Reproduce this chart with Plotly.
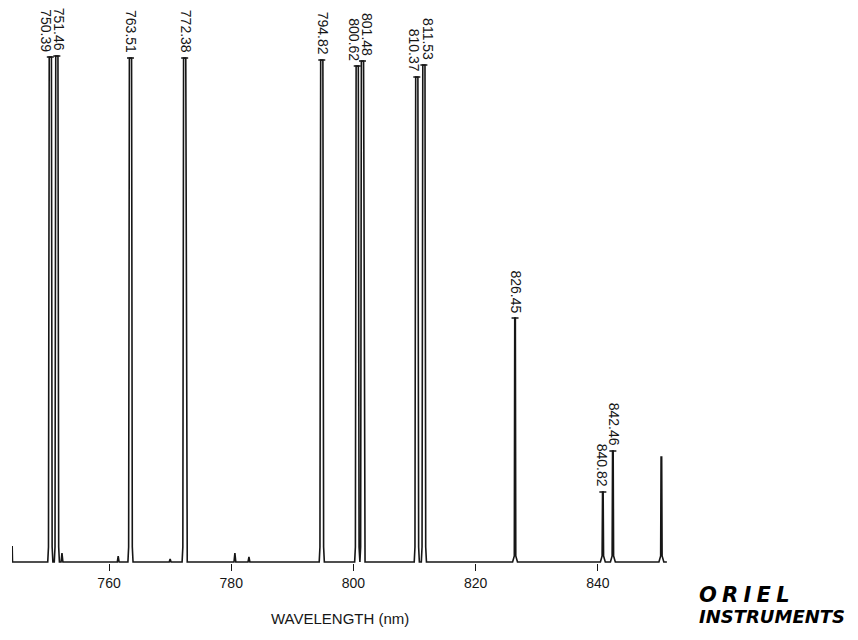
import plotly.graph_objects as go

# Argon emission lines: wavelength (nm) and recorded intensity (arb. units, baseline = 0)
LINE_WL = [750.39, 751.46, 763.51, 772.38, 794.82, 800.62, 801.48,
           810.37, 811.53, 826.45, 840.82, 842.46, 850.4]
LINE_INT = [101.0, 101.2, 100.8, 100.8, 100.4, 99.2, 100.2,
            97.0, 99.4, 48.8, 14.0, 22.2, 21.0]
LINE_LABEL = ["750.39", "751.46", "763.51", "772.38", "794.82", "800.62", "801.48",
              "810.37", "811.53", "826.45", "840.82", "842.46", None]

# small bumps on the baseline
BUMP_WL = [752.3, 761.5, 770.0, 780.6, 782.9]
BUMP_INT = [1.8, 1.2, 0.6, 1.8, 1.0]

# pen start level and scan limits
SCAN_START, SCAN_END = 744.15, 851.3
START_LEVEL = 3.2

TICKS = [760, 780, 800, 820, 840]

# label nudges (px) so neighbouring labels do not collide
LABEL_XSHIFT = [-4, 3, 1, 2, 2, -3, 5, -2, 4, 1, 0, 2, 0]

INK = "#161616"
FONT = "Liberation Sans, Arial, sans-serif"

# shape of a line profile: (offset nm, level; None = line intensity)
STRONG_PROFILE = [(-0.42, 0.0), (-0.3, 3.0), (-0.18, None), (0.18, None), (0.3, 3.0), (0.42, 0.0)]
WEAK_PROFILE = [(-0.4, 0.0), (-0.12, 1.2), (-0.05, None), (0.05, None), (0.12, 1.2), (0.4, 0.0)]
BUMP_PROFILE = [(-0.15, 0.0), (0.0, None), (0.15, 0.0)]

events = [(w, h, STRONG_PROFILE if h > 60 else WEAK_PROFILE) for w, h in zip(LINE_WL, LINE_INT)]
events += [(w, h, BUMP_PROFILE) for w, h in zip(BUMP_WL, BUMP_INT)]
events.sort(key=lambda e: e[0])

xs = [SCAN_START, SCAN_START + 0.05]
ys = [START_LEVEL, 0.0]
for w, h, prof in events:
    for dx, lvl in prof:
        xs.append(w + dx)
        ys.append(h if lvl is None else lvl)
xs.append(SCAN_END)
ys.append(0.0)

fig = go.Figure()
fig.add_trace(go.Scatter(
    x=xs, y=ys, mode="lines",
    line=dict(color=INK, width=1.6),
    hoverinfo="skip",
))

lab_wl = [w for w, l in zip(LINE_WL, LINE_LABEL) if l]
lab_int = [h for h, l in zip(LINE_INT, LINE_LABEL) if l]
fig.add_trace(go.Scatter(
    x=lab_wl, y=lab_int, mode="markers",
    marker=dict(symbol="line-ew", size=5, line=dict(color=INK, width=1.5)),
    hoverinfo="skip",
))

annotations = []
for w, h, lab, dx in zip(LINE_WL, LINE_INT, LINE_LABEL, LABEL_XSHIFT):
    if not lab:
        continue
    annotations.append(dict(
        x=w, y=h, xref="x", yref="y", text=lab, textangle=90,
        showarrow=False, xanchor="center", yanchor="bottom",
        xshift=dx, yshift=3,
        font=dict(family=FONT, size=14, color=INK),
    ))

annotations.append(dict(
    x=0.5, y=-0.098, xref="paper", yref="paper", text="WAVELENGTH (nm)",
    showarrow=False, xanchor="center", yanchor="middle",
    font=dict(family=FONT, size=15, color=INK),
))
# company logo, two lines in one block
annotations.append(dict(
    x=1.046, y=-0.074, xref="paper", yref="paper",
    text=("<span style='font-size:21px'><b><i>O\u2005R\u2005I\u2005E\u2005L</i></b></span><br>"
          "<span style='font-size:18px'><b><i>INSTRUMENTS</i></b></span>"),
    align="left", showarrow=False, xanchor="left", yanchor="middle",
    font=dict(family="DejaVu Sans", size=16.5, color="#000000"),
))

fig.update_layout(
    width=858, height=640,
    margin=dict(l=12, r=191, t=0, b=77),
    paper_bgcolor="white", plot_bgcolor="white",
    showlegend=False,
    annotations=annotations,
    xaxis=dict(
        range=[744.12, 851.32],
        tickvals=TICKS, ticktext=[str(t) for t in TICKS],
        ticks="outside", ticklen=7, tickwidth=1.4, tickcolor=INK,
        showline=False, showgrid=False, zeroline=False,
        tickfont=dict(family=FONT, size=14, color=INK),
    ),
    yaxis=dict(range=[-0.2, 112.4], visible=False),
)

fig.write_html("out.html")
